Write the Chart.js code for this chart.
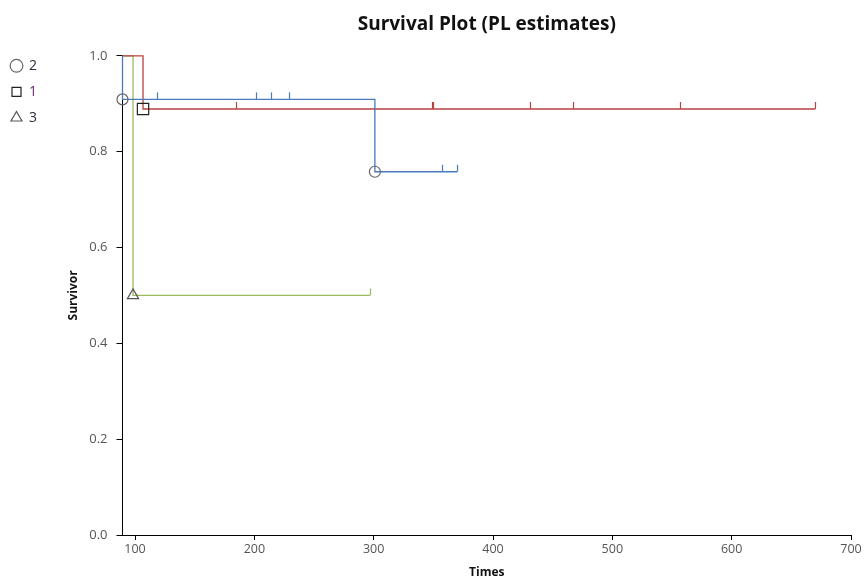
<!DOCTYPE html>
<html>
<head>
<meta charset="utf-8">
<script src="https://cdn.jsdelivr.net/npm/chart.js@4.4.0/dist/chart.umd.min.js"></script>
<style>
  html, body { margin: 0; padding: 0; background: #fff; }
  #wrap { width: 865px; height: 578px; }
</style>
</head>
<body>
<div id="wrap"><canvas id="chart"></canvas></div>
<script>
// survival groups, in legend order
const groupNames = ["2", "1", "3"];
const startTime = 89.5;
const eventTimes = [[89.5, 301], [106.7], [98.3]];
const survival = [[0.909, 0.758], [0.889], [0.5]];
const censorTimes = [
  [118, 201, 214, 229, 357, 370],
  [185, 349, 350, 431, 467, 557, 670],
  [297],
];
const xTicks = [100, 200, 300, 400, 500, 600, 700];
const yTicks = [0, 0.2, 0.4, 0.6, 0.8, 1.0];

const lineColors = ["#4a7bbd", "#b94242", "#9cbb5e"];
const markerStyles = ["circle", "rect", "triangle"];
const markerSizes = [5.5, 8, 6.5];
const markerColors = ["#666", "#222", "#555"];
const legendTextColors = ["#2d2d3d", "#6e2a7c", "#2d2d3d"];
const FONT = "'Open Sans', 'Noto Sans', sans-serif";

const survAt = (g, t) => {
  let s = 1;
  eventTimes[g].forEach((et, i) => {
    if (et <= t) s = survival[g][i];
  });
  return s;
};

const markerSets = groupNames.map((name, g) => ({
  label: name,
  data: eventTimes[g].map((t, i) => ({ x: t, y: survival[g][i] })),
  showLine: false,
  pointStyle: markerStyles[g],
  pointRadius: markerSizes[g],
  pointBorderWidth: 1.2,
  pointBorderColor: markerColors[g],
  pointBackgroundColor: "rgba(0,0,0,0)",
  borderColor: markerColors[g],
  backgroundColor: "rgba(0,0,0,0)",
  borderWidth: 1.2,
  order: 0,
  clip: false,
}));

const lineSets = groupNames.map((name, g) => {
  const pts = [{ x: startTime, y: 1 }];
  eventTimes[g].forEach((t, i) => pts.push({ x: t, y: survival[g][i] }));
  const last = Math.max(...censorTimes[g]);
  pts.push({ x: last, y: survAt(g, last) });
  return {
    label: "line " + name,
    data: pts,
    showLine: true,
    stepped: true,
    borderColor: lineColors[g],
    borderWidth: 1.3,
    pointRadius: 0,
    fill: false,
    order: 1,
    clip: false,
  };
});

const censorTicks = {
  id: "censorTicks",
  afterDatasetsDraw(chart) {
    const xs = chart.scales.x;
    const ys = chart.scales.y;
    const ctx = chart.ctx;
    ctx.save();
    censorTimes.forEach((times, g) => {
      ctx.strokeStyle = lineColors[g];
      ctx.lineWidth = 1.2;
      times.forEach((t) => {
        const px = Math.round(xs.getPixelForValue(t)) + 0.5;
        const py = ys.getPixelForValue(survAt(g, t));
        ctx.beginPath();
        ctx.moveTo(px, py);
        ctx.lineTo(px, py - 7);
        ctx.stroke();
      });
    });
    ctx.restore();
  },
};

// nudge the legend block up and left
const legendNudge = {
  id: "legendNudge",
  afterLayout(chart) {
    const lg = chart.legend;
    if (!lg) return;
    lg.top -= 9;
    lg.bottom -= 9;
    lg.left -= 1;
    lg.right -= 1;
  },
};

new Chart(document.getElementById("chart"), {
  type: "scatter",
  data: { datasets: [...markerSets, ...lineSets] },
  plugins: [censorTicks, legendNudge],
  options: {
    responsive: true,
    maintainAspectRatio: false,
    animation: false,
    layout: { padding: { top: 0, right: 14, bottom: 0, left: 0 } },
    plugins: {
      tooltip: { enabled: false },
      title: {
        display: true,
        text: "Survival Plot (PL estimates)",
        fullSize: false,
        color: "#111",
        font: { family: FONT, size: 19, weight: "bold" },
        padding: { top: 13, bottom: 20 },
      },
      legend: {
        position: "left",
        align: "start",
        fullSize: false,
        labels: {
          usePointStyle: true,
          boxWidth: 11,
          boxHeight: 9,
          padding: 12,
          font: { family: FONT, size: 14 },
          generateLabels(chart) {
            const items = Chart.defaults.plugins.legend.labels.generateLabels(chart);
            items.forEach((it) => {
              if (it.datasetIndex < 3) it.fontColor = legendTextColors[it.datasetIndex];
            });
            return items;
          },
          filter: (item) => item.datasetIndex < 3,
        },
      },
    },
    scales: {
      x: {
        type: "linear",
        min: startTime,
        max: 700,
        afterBuildTicks: (scale) => {
          scale.ticks = xTicks.map((v) => ({ value: v }));
        },
        afterFit: (scale) => {
          scale.height = 43;
        },
        grid: { display: true, drawOnChartArea: false, drawTicks: true, tickLength: 5, color: "#000" },
        border: { display: true, color: "#000", width: 1 },
        ticks: { color: "#555", font: { family: FONT, size: 12.5 }, padding: 2, maxRotation: 0 },
        title: {
          display: true,
          text: "Times",
          color: "#111",
          font: { family: FONT, size: 12, weight: "bold" },
          padding: { top: 2, bottom: -2 },
        },
      },
      y: {
        type: "linear",
        min: 0,
        max: 1,
        afterBuildTicks: (scale) => {
          scale.ticks = yTicks.map((v) => ({ value: v }));
        },
        afterFit: (scale) => {
          scale.width = 74.5;
        },
        grid: { display: true, drawOnChartArea: false, drawTicks: true, tickLength: 6, color: "#000" },
        border: { display: true, color: "#000", width: 1 },
        ticks: {
          color: "#555",
          font: { family: FONT, size: 13 },
          padding: 9,
          callback: (v) => v.toFixed(1),
        },
        title: {
          display: true,
          text: "Survivor",
          color: "#111",
          font: { family: FONT, size: 12, weight: "bold" },
          padding: { top: 18, bottom: 0 },
        },
      },
    },
  },
});
</script>
</body>
</html>
